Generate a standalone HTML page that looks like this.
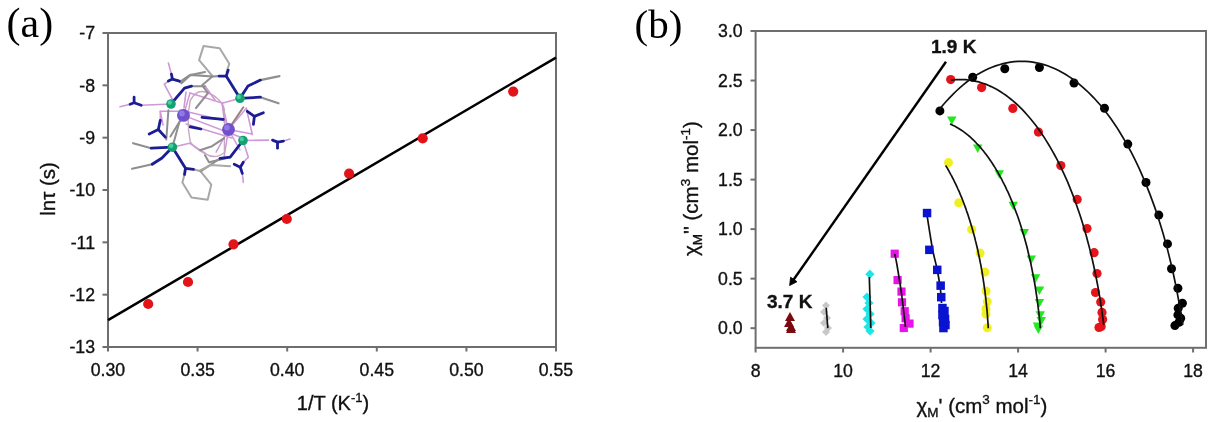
<!DOCTYPE html>
<html><head><meta charset="utf-8"><style>
html,body{margin:0;padding:0;background:#fff;width:1217px;height:422px;overflow:hidden}
svg{display:block;filter:blur(0.4px)}
</style></head><body>
<svg width="1217" height="422" viewBox="0 0 1217 422">
<rect width="1217" height="422" fill="#fff"/>
<text x="6.5" y="37.3" font-family="Liberation Serif, serif" font-size="42" fill="#000">(a)</text>
<rect x="108" y="33" width="448" height="314" fill="none" stroke="#6e6e6e" stroke-width="2"/>
<line x1="102.5" y1="33.00" x2="108" y2="33.00" stroke="#6e6e6e" stroke-width="2"/>
<text x="95" y="39.3" text-anchor="end" font-family="Liberation Sans, sans-serif" stroke="#111" stroke-width="0.35" font-size="17.7" fill="#111">-7</text>
<line x1="102.5" y1="85.33" x2="108" y2="85.33" stroke="#6e6e6e" stroke-width="2"/>
<text x="95" y="91.6" text-anchor="end" font-family="Liberation Sans, sans-serif" stroke="#111" stroke-width="0.35" font-size="17.7" fill="#111">-8</text>
<line x1="102.5" y1="137.67" x2="108" y2="137.67" stroke="#6e6e6e" stroke-width="2"/>
<text x="95" y="144.0" text-anchor="end" font-family="Liberation Sans, sans-serif" stroke="#111" stroke-width="0.35" font-size="17.7" fill="#111">-9</text>
<line x1="102.5" y1="190.00" x2="108" y2="190.00" stroke="#6e6e6e" stroke-width="2"/>
<text x="95" y="196.3" text-anchor="end" font-family="Liberation Sans, sans-serif" stroke="#111" stroke-width="0.35" font-size="17.7" fill="#111">-10</text>
<line x1="102.5" y1="242.33" x2="108" y2="242.33" stroke="#6e6e6e" stroke-width="2"/>
<text x="95" y="248.6" text-anchor="end" font-family="Liberation Sans, sans-serif" stroke="#111" stroke-width="0.35" font-size="17.7" fill="#111">-11</text>
<line x1="102.5" y1="294.67" x2="108" y2="294.67" stroke="#6e6e6e" stroke-width="2"/>
<text x="95" y="301.0" text-anchor="end" font-family="Liberation Sans, sans-serif" stroke="#111" stroke-width="0.35" font-size="17.7" fill="#111">-12</text>
<line x1="102.5" y1="347.00" x2="108" y2="347.00" stroke="#6e6e6e" stroke-width="2"/>
<text x="95" y="353.3" text-anchor="end" font-family="Liberation Sans, sans-serif" stroke="#111" stroke-width="0.35" font-size="17.7" fill="#111">-13</text>
<line x1="108.00" y1="347" x2="108.00" y2="351.5" stroke="#6e6e6e" stroke-width="2"/>
<text x="108.0" y="376" text-anchor="middle" font-family="Liberation Sans, sans-serif" stroke="#111" stroke-width="0.35" font-size="17.7" fill="#111">0.30</text>
<line x1="197.60" y1="347" x2="197.60" y2="351.5" stroke="#6e6e6e" stroke-width="2"/>
<text x="197.6" y="376" text-anchor="middle" font-family="Liberation Sans, sans-serif" stroke="#111" stroke-width="0.35" font-size="17.7" fill="#111">0.35</text>
<line x1="287.20" y1="347" x2="287.20" y2="351.5" stroke="#6e6e6e" stroke-width="2"/>
<text x="287.2" y="376" text-anchor="middle" font-family="Liberation Sans, sans-serif" stroke="#111" stroke-width="0.35" font-size="17.7" fill="#111">0.40</text>
<line x1="376.80" y1="347" x2="376.80" y2="351.5" stroke="#6e6e6e" stroke-width="2"/>
<text x="376.8" y="376" text-anchor="middle" font-family="Liberation Sans, sans-serif" stroke="#111" stroke-width="0.35" font-size="17.7" fill="#111">0.45</text>
<line x1="466.40" y1="347" x2="466.40" y2="351.5" stroke="#6e6e6e" stroke-width="2"/>
<text x="466.4" y="376" text-anchor="middle" font-family="Liberation Sans, sans-serif" stroke="#111" stroke-width="0.35" font-size="17.7" fill="#111">0.50</text>
<line x1="556.00" y1="347" x2="556.00" y2="351.5" stroke="#6e6e6e" stroke-width="2"/>
<text x="556.0" y="376" text-anchor="middle" font-family="Liberation Sans, sans-serif" stroke="#111" stroke-width="0.35" font-size="17.7" fill="#111">0.55</text>
<text x="296.8" y="410.3" font-family="Liberation Sans, sans-serif" stroke="#111" stroke-width="0.35" font-size="20" fill="#111">1/T (K<tspan font-size="13" dy="-8.5">-1</tspan><tspan dy="8.5">)</tspan></text>
<text transform="translate(55,189) rotate(-90)" text-anchor="middle" font-family="Liberation Sans, sans-serif" stroke="#111" stroke-width="0.35" font-size="20.5" fill="#111">ln&#964; (s)</text>
<line x1="108" y1="320.2" x2="556" y2="57.6" stroke="#000" stroke-width="2.5"/>
<circle cx="148.2" cy="304.0" r="5.1" fill="#e2141a"/>
<circle cx="188.0" cy="282.0" r="5.1" fill="#e2141a"/>
<circle cx="233.5" cy="244.3" r="5.1" fill="#e2141a"/>
<circle cx="286.8" cy="219.0" r="5.1" fill="#e2141a"/>
<circle cx="349.1" cy="173.6" r="5.1" fill="#e2141a"/>
<circle cx="422.7" cy="138.3" r="5.1" fill="#e2141a"/>
<circle cx="513.2" cy="91.6" r="5.1" fill="#e2141a"/>
<text x="634.5" y="38" font-family="Liberation Serif, serif" font-size="41" fill="#000">(b)</text>
<rect x="755.6" y="31.0" width="450.4" height="316.8" fill="none" stroke="#6e6e6e" stroke-width="2"/>
<line x1="750.5" y1="328.18" x2="755.6" y2="328.18" stroke="#6e6e6e" stroke-width="2"/>
<text x="742.7" y="334.4" text-anchor="end" font-family="Liberation Sans, sans-serif" stroke="#111" stroke-width="0.35" font-size="17.7" fill="#111">0.0</text>
<line x1="750.5" y1="278.65" x2="755.6" y2="278.65" stroke="#6e6e6e" stroke-width="2"/>
<text x="742.7" y="284.8" text-anchor="end" font-family="Liberation Sans, sans-serif" stroke="#111" stroke-width="0.35" font-size="17.7" fill="#111">0.5</text>
<line x1="750.5" y1="229.12" x2="755.6" y2="229.12" stroke="#6e6e6e" stroke-width="2"/>
<text x="742.7" y="235.3" text-anchor="end" font-family="Liberation Sans, sans-serif" stroke="#111" stroke-width="0.35" font-size="17.7" fill="#111">1.0</text>
<line x1="750.5" y1="179.59" x2="755.6" y2="179.59" stroke="#6e6e6e" stroke-width="2"/>
<text x="742.7" y="185.8" text-anchor="end" font-family="Liberation Sans, sans-serif" stroke="#111" stroke-width="0.35" font-size="17.7" fill="#111">1.5</text>
<line x1="750.5" y1="130.06" x2="755.6" y2="130.06" stroke="#6e6e6e" stroke-width="2"/>
<text x="742.7" y="136.3" text-anchor="end" font-family="Liberation Sans, sans-serif" stroke="#111" stroke-width="0.35" font-size="17.7" fill="#111">2.0</text>
<line x1="750.5" y1="80.53" x2="755.6" y2="80.53" stroke="#6e6e6e" stroke-width="2"/>
<text x="742.7" y="86.7" text-anchor="end" font-family="Liberation Sans, sans-serif" stroke="#111" stroke-width="0.35" font-size="17.7" fill="#111">2.5</text>
<line x1="750.5" y1="31.00" x2="755.6" y2="31.00" stroke="#6e6e6e" stroke-width="2"/>
<text x="742.7" y="37.2" text-anchor="end" font-family="Liberation Sans, sans-serif" stroke="#111" stroke-width="0.35" font-size="17.7" fill="#111">3.0</text>
<line x1="755.60" y1="347.8" x2="755.60" y2="352.5" stroke="#6e6e6e" stroke-width="2"/>
<text x="755.6" y="377" text-anchor="middle" font-family="Liberation Sans, sans-serif" stroke="#111" stroke-width="0.35" font-size="17.7" fill="#111">8</text>
<line x1="843.10" y1="347.8" x2="843.10" y2="352.5" stroke="#6e6e6e" stroke-width="2"/>
<text x="843.1" y="377" text-anchor="middle" font-family="Liberation Sans, sans-serif" stroke="#111" stroke-width="0.35" font-size="17.7" fill="#111">10</text>
<line x1="930.60" y1="347.8" x2="930.60" y2="352.5" stroke="#6e6e6e" stroke-width="2"/>
<text x="930.6" y="377" text-anchor="middle" font-family="Liberation Sans, sans-serif" stroke="#111" stroke-width="0.35" font-size="17.7" fill="#111">12</text>
<line x1="1018.10" y1="347.8" x2="1018.10" y2="352.5" stroke="#6e6e6e" stroke-width="2"/>
<text x="1018.1" y="377" text-anchor="middle" font-family="Liberation Sans, sans-serif" stroke="#111" stroke-width="0.35" font-size="17.7" fill="#111">14</text>
<line x1="1105.60" y1="347.8" x2="1105.60" y2="352.5" stroke="#6e6e6e" stroke-width="2"/>
<text x="1105.6" y="377" text-anchor="middle" font-family="Liberation Sans, sans-serif" stroke="#111" stroke-width="0.35" font-size="17.7" fill="#111">16</text>
<line x1="1193.10" y1="347.8" x2="1193.10" y2="352.5" stroke="#6e6e6e" stroke-width="2"/>
<text x="1193.1" y="377" text-anchor="middle" font-family="Liberation Sans, sans-serif" stroke="#111" stroke-width="0.35" font-size="17.7" fill="#111">18</text>
<text x="916.5" y="412.5" font-family="Liberation Sans, sans-serif" stroke="#111" stroke-width="0.35" font-size="20.5" fill="#111">&#967;<tspan font-size="13.5" dy="4">M</tspan><tspan dy="-4">' (cm</tspan><tspan font-size="13.5" dy="-8.5">3</tspan><tspan dy="8.5"> mol</tspan><tspan font-size="13.5" dy="-8.5">-1</tspan><tspan dy="8.5">)</tspan></text>
<text transform="translate(698,188.6) rotate(-90)" text-anchor="middle" font-family="Liberation Sans, sans-serif" stroke="#111" stroke-width="0.35" font-size="20.5" fill="#111">&#967;<tspan font-size="13.5" dy="4">M</tspan><tspan dy="-4">'' (cm</tspan><tspan font-size="13.5" dy="-8.5">3</tspan><tspan dy="8.5"> mol</tspan><tspan font-size="13.5" dy="-8.5">-1</tspan><tspan dy="8.5">)</tspan></text>
<text x="931" y="52.7" font-family="Liberation Sans, sans-serif" stroke="#111" stroke-width="0.35" font-weight="bold" font-size="19" fill="#111">1.9 K</text>
<text x="767" y="307.5" font-family="Liberation Sans, sans-serif" stroke="#111" stroke-width="0.35" font-weight="bold" font-size="19" fill="#111">3.7 K</text>
<line x1="946" y1="61.8" x2="793" y2="280.5" stroke="#000" stroke-width="2.4"/>
<path d="M789.6,285.6 L790.6,277.2 L797.0,281.7 Z" fill="#000" stroke="#000" stroke-width="0.8" stroke-linejoin="miter"/>
<path d="M869.9,269.6 L874.5,274.2 L869.9,278.8 L865.3,274.2 Z" fill="#1ee6e6"/><path d="M867.0,292.4 L871.6,297.0 L867.0,301.6 L862.4,297.0 Z" fill="#1ee6e6"/><path d="M869.0,298.4 L873.6,303.0 L869.0,307.6 L864.4,303.0 Z" fill="#1ee6e6"/><path d="M867.0,304.4 L871.6,309.0 L867.0,313.6 L862.4,309.0 Z" fill="#1ee6e6"/><path d="M870.0,309.4 L874.6,314.0 L870.0,318.6 L865.4,314.0 Z" fill="#1ee6e6"/><path d="M867.0,314.4 L871.6,319.0 L867.0,323.6 L862.4,319.0 Z" fill="#1ee6e6"/><path d="M871.0,318.4 L875.6,323.0 L871.0,327.6 L866.4,323.0 Z" fill="#1ee6e6"/><path d="M868.0,322.4 L872.6,327.0 L868.0,331.6 L863.4,327.0 Z" fill="#1ee6e6"/><path d="M870.0,326.4 L874.6,331.0 L870.0,335.6 L865.4,331.0 Z" fill="#1ee6e6"/>
<path d="M869.3,277.0 C869.4,280.8 869.8,291.5 870.0,300.0 C870.2,308.5 870.7,323.3 870.8,328.0" fill="none" stroke="#111" stroke-width="1.7"/>
<path d="M826.0,301.5 L830.0,305.5 L826.0,309.5 L822.0,305.5 Z" fill="#c8c8c8"/><path d="M824.0,308.0 L828.0,312.0 L824.0,316.0 L820.0,312.0 Z" fill="#c8c8c8"/><path d="M827.0,314.0 L831.0,318.0 L827.0,322.0 L823.0,318.0 Z" fill="#c8c8c8"/><path d="M824.0,319.0 L828.0,323.0 L824.0,327.0 L820.0,323.0 Z" fill="#c8c8c8"/><path d="M828.0,324.0 L832.0,328.0 L828.0,332.0 L824.0,328.0 Z" fill="#c8c8c8"/><path d="M826.0,328.0 L830.0,332.0 L826.0,336.0 L822.0,332.0 Z" fill="#c8c8c8"/>
<path d="M826.2,307.8 C826.5,311.2 827.5,324.7 827.8,328.1" fill="none" stroke="#111" stroke-width="1.7"/>
<path d="M785.0,321.0 L795.0,321.0 L790.0,312.0 Z" fill="#7a0a10"/><path d="M784.0,327.0 L794.0,327.0 L789.0,318.0 Z" fill="#7a0a10"/><path d="M786.0,331.0 L796.0,331.0 L791.0,322.0 Z" fill="#7a0a10"/><path d="M786.0,333.0 L796.0,333.0 L791.0,324.0 Z" fill="#7a0a10"/>
<rect x="890.6" y="249.6" width="8.2" height="8.2" fill="#e614e6"/><rect x="893.5" y="276.0" width="8.2" height="8.2" fill="#e614e6"/><rect x="897.4" y="287.5" width="8.2" height="8.2" fill="#e614e6"/><rect x="897.9" y="298.2" width="8.2" height="8.2" fill="#e614e6"/><rect x="900.6" y="307.1" width="8.2" height="8.2" fill="#e614e6"/><rect x="901.5" y="314.2" width="8.2" height="8.2" fill="#e614e6"/><rect x="905.4" y="319.5" width="8.2" height="8.2" fill="#e614e6"/><rect x="899.7" y="323.9" width="8.2" height="8.2" fill="#e614e6"/>
<path d="M894.7,254.0 C895.1,255.8 896.0,259.0 897.0,265.0 C898.0,271.0 899.9,282.5 901.0,290.0 C902.1,297.5 902.8,303.8 903.5,310.0 C904.2,316.2 905.2,324.2 905.5,327.0" fill="none" stroke="#111" stroke-width="1.7"/>
<path d="M927.0,215.0 C927.9,220.7 930.8,239.8 932.5,249.0 C934.2,258.2 936.0,263.2 937.3,270.0 C938.6,276.8 939.8,284.5 940.5,290.0 C941.2,295.5 941.3,300.8 941.5,303.0" fill="none" stroke="#111" stroke-width="1.7"/>
<rect x="922.8" y="208.8" width="8.5" height="8.5" fill="#0a14d0"/><rect x="925.1" y="245.6" width="8.5" height="8.5" fill="#0a14d0"/><rect x="933.0" y="265.6" width="8.5" height="8.5" fill="#0a14d0"/><rect x="936.4" y="281.4" width="8.5" height="8.5" fill="#0a14d0"/><rect x="937.0" y="292.9" width="8.5" height="8.5" fill="#0a14d0"/><rect x="938.2" y="303.8" width="8.5" height="8.5" fill="#0a14d0"/><rect x="940.2" y="306.8" width="8.5" height="8.5" fill="#0a14d0"/><rect x="938.2" y="310.8" width="8.5" height="8.5" fill="#0a14d0"/><rect x="940.8" y="314.8" width="8.5" height="8.5" fill="#0a14d0"/><rect x="938.8" y="317.8" width="8.5" height="8.5" fill="#0a14d0"/><rect x="941.2" y="320.8" width="8.5" height="8.5" fill="#0a14d0"/><rect x="939.2" y="323.8" width="8.5" height="8.5" fill="#0a14d0"/>
<circle cx="948.5" cy="162.6" r="4.5" fill="#f0f020"/><circle cx="958.8" cy="202.7" r="4.5" fill="#f0f020"/><circle cx="971.6" cy="229.4" r="4.5" fill="#f0f020"/><circle cx="980.1" cy="253.0" r="4.5" fill="#f0f020"/><circle cx="984.9" cy="272.0" r="4.5" fill="#f0f020"/><circle cx="986.1" cy="291.0" r="4.5" fill="#f0f020"/><circle cx="987.3" cy="301.6" r="4.5" fill="#f0f020"/><circle cx="986.0" cy="308.7" r="4.5" fill="#f0f020"/><circle cx="986.0" cy="314.0" r="4.5" fill="#f0f020"/><circle cx="987.3" cy="327.7" r="4.5" fill="#f0f020"/>
<polyline points="945.6,165.5 946.5,166.9 947.4,168.3 948.2,169.8 949.1,171.3 949.9,172.8 950.7,174.3 951.6,175.9 952.4,177.5 953.2,179.0 954.0,180.7 954.8,182.3 955.6,183.9 956.4,185.6 957.2,187.3 957.9,189.0 958.7,190.7 959.5,192.4 960.2,194.2 960.9,195.9 961.7,197.7 962.4,199.5 963.1,201.3 963.8,203.2 964.5,205.0 965.2,206.9 965.9,208.8 966.5,210.7 967.2,212.6 967.9,214.5 968.5,216.5 969.1,218.4 969.8,220.4 970.4,222.4 971.0,224.4 971.6,226.4 972.2,228.5 972.8,230.5 973.3,232.6 973.9,234.6 974.5,236.7 975.0,238.8 975.5,240.9 976.1,243.1 976.6,245.2 977.1,247.3 977.6,249.5 978.1,251.7 978.5,253.9 979.0,256.1 979.5,258.3 979.9,260.5 980.3,262.7 980.8,264.9 981.2,267.2 981.6,269.4 982.0,271.7 982.4,274.0 982.7,276.3 983.1,278.5 983.4,280.8 983.8,283.1 984.1,285.5 984.4,287.8 984.8,290.1 985.1,292.4 985.3,294.8 985.6,297.1 985.9,299.5 986.1,301.9 986.4,304.2 986.6,306.6 986.9,309.0 987.1,311.4 987.3,313.8 987.5,316.1 987.6,318.5 987.8,321.0 988.0,323.4 988.1,325.8 988.3,328.2" fill="none" stroke="#111" stroke-width="1.7"/>
<path d="M947.0,116.5 L956.5,116.5 L951.8,125.0 Z" fill="#22e822"/><path d="M973.0,144.5 L982.5,144.5 L977.7,153.1 Z" fill="#22e822"/><path d="M994.5,170.2 L1004.0,170.2 L999.3,178.8 Z" fill="#22e822"/><path d="M1008.5,201.7 L1018.0,201.7 L1013.3,210.2 Z" fill="#22e822"/><path d="M1019.5,228.9 L1029.0,228.9 L1024.3,237.4 Z" fill="#22e822"/><path d="M1026.5,255.4 L1036.0,255.4 L1031.3,263.9 Z" fill="#22e822"/><path d="M1030.8,274.2 L1040.3,274.2 L1035.6,282.8 Z" fill="#22e822"/><path d="M1034.7,286.5 L1044.2,286.5 L1039.4,295.1 Z" fill="#22e822"/><path d="M1034.7,298.9 L1044.2,298.9 L1039.4,307.4 Z" fill="#22e822"/><path d="M1035.5,311.2 L1045.0,311.2 L1040.3,319.8 Z" fill="#22e822"/><path d="M1036.5,316.9 L1046.0,316.9 L1041.3,325.4 Z" fill="#22e822"/><path d="M1032.8,322.6 L1042.2,322.6 L1037.5,331.1 Z" fill="#22e822"/><path d="M1033.7,325.4 L1043.2,325.4 L1038.4,333.9 Z" fill="#22e822"/>
<polyline points="950.0,123.9 951.7,124.7 953.3,125.5 955.0,126.3 956.6,127.2 958.3,128.2 959.9,129.2 961.5,130.3 963.2,131.4 964.8,132.6 966.4,133.9 968.0,135.2 969.6,136.5 971.1,137.9 972.7,139.4 974.3,140.9 975.8,142.5 977.3,144.1 978.9,145.7 980.4,147.4 981.9,149.2 983.4,151.0 984.9,152.9 986.3,154.8 987.8,156.8 989.2,158.8 990.7,160.9 992.1,163.0 993.5,165.2 994.9,167.4 996.2,169.6 997.6,171.9 998.9,174.3 1000.2,176.7 1001.6,179.1 1002.8,181.6 1004.1,184.1 1005.4,186.7 1006.6,189.3 1007.9,191.9 1009.1,194.6 1010.2,197.3 1011.4,200.1 1012.6,202.9 1013.7,205.8 1014.8,208.7 1015.9,211.6 1017.0,214.5 1018.1,217.5 1019.1,220.6 1020.1,223.6 1021.1,226.7 1022.1,229.9 1023.0,233.0 1024.0,236.2 1024.9,239.5 1025.8,242.7 1026.7,246.0 1027.5,249.3 1028.3,252.7 1029.1,256.1 1029.9,259.5 1030.7,262.9 1031.4,266.4 1032.1,269.8 1032.8,273.3 1033.5,276.9 1034.1,280.4 1034.8,284.0 1035.4,287.6 1035.9,291.2 1036.5,294.8 1037.0,298.5 1037.5,302.1 1038.0,305.8 1038.4,309.5 1038.9,313.2 1039.3,316.9 1039.7,320.7 1040.0,324.4 1040.3,328.2" fill="none" stroke="#111" stroke-width="1.7"/>
<circle cx="950.7" cy="79.6" r="4.6" fill="#e4141a"/><circle cx="981.6" cy="87.6" r="4.6" fill="#e4141a"/><circle cx="1012.8" cy="108.4" r="4.6" fill="#e4141a"/><circle cx="1038.4" cy="132.1" r="4.6" fill="#e4141a"/><circle cx="1060.8" cy="165.6" r="4.6" fill="#e4141a"/><circle cx="1077.2" cy="199.4" r="4.6" fill="#e4141a"/><circle cx="1087.0" cy="228.5" r="4.6" fill="#e4141a"/><circle cx="1094.1" cy="252.7" r="4.6" fill="#e4141a"/><circle cx="1097.0" cy="273.5" r="4.6" fill="#e4141a"/><circle cx="1095.5" cy="292.5" r="4.6" fill="#e4141a"/><circle cx="1100.7" cy="301.9" r="4.6" fill="#e4141a"/><circle cx="1102.0" cy="312.4" r="4.6" fill="#e4141a"/><circle cx="1102.6" cy="319.5" r="4.6" fill="#e4141a"/><circle cx="1101.2" cy="326.6" r="4.6" fill="#e4141a"/><circle cx="1099.0" cy="327.5" r="4.6" fill="#e4141a"/>
<polyline points="950.8,80.3 953.4,80.0 955.9,79.7 958.4,79.6 961.0,79.5 963.5,79.6 966.0,79.7 968.6,80.0 971.1,80.3 973.6,80.8 976.1,81.3 978.7,81.9 981.2,82.7 983.7,83.5 986.2,84.4 988.7,85.5 991.2,86.6 993.6,87.8 996.1,89.1 998.6,90.5 1001.0,92.0 1003.4,93.6 1005.9,95.3 1008.3,97.1 1010.7,99.0 1013.0,100.9 1015.4,103.0 1017.8,105.2 1020.1,107.4 1022.4,109.7 1024.7,112.2 1027.0,114.7 1029.2,117.3 1031.5,120.0 1033.7,122.7 1035.9,125.6 1038.1,128.5 1040.2,131.6 1042.4,134.7 1044.5,137.9 1046.5,141.1 1048.6,144.5 1050.6,147.9 1052.6,151.4 1054.6,155.0 1056.6,158.7 1058.5,162.4 1060.4,166.2 1062.2,170.1 1064.1,174.1 1065.9,178.1 1067.7,182.2 1069.4,186.4 1071.1,190.6 1072.8,194.9 1074.4,199.3 1076.1,203.7 1077.6,208.2 1079.2,212.7 1080.7,217.3 1082.2,222.0 1083.6,226.7 1085.0,231.5 1086.4,236.3 1087.7,241.2 1089.0,246.1 1090.3,251.1 1091.5,256.1 1092.7,261.2 1093.8,266.3 1094.9,271.5 1096.0,276.7 1097.0,282.0 1098.0,287.2 1098.9,292.6 1099.9,297.9 1100.7,303.3 1101.5,308.7 1102.3,314.2 1103.1,319.7 1103.8,325.2" fill="none" stroke="#111" stroke-width="1.7"/>
<circle cx="939.9" cy="110.9" r="4.5" fill="#000000"/><circle cx="972.7" cy="77.3" r="4.5" fill="#000000"/><circle cx="1004.8" cy="68.8" r="4.5" fill="#000000"/><circle cx="1039.4" cy="67.5" r="4.5" fill="#000000"/><circle cx="1074.0" cy="83.0" r="4.5" fill="#000000"/><circle cx="1104.5" cy="108.3" r="4.5" fill="#000000"/><circle cx="1127.8" cy="144.1" r="4.5" fill="#000000"/><circle cx="1146.0" cy="182.5" r="4.5" fill="#000000"/><circle cx="1158.8" cy="215.1" r="4.5" fill="#000000"/><circle cx="1167.5" cy="243.9" r="4.5" fill="#000000"/><circle cx="1171.5" cy="268.8" r="4.5" fill="#000000"/><circle cx="1177.9" cy="288.3" r="4.5" fill="#000000"/><circle cx="1182.4" cy="303.2" r="4.5" fill="#000000"/><circle cx="1178.2" cy="308.2" r="4.5" fill="#000000"/><circle cx="1177.9" cy="314.9" r="4.5" fill="#000000"/><circle cx="1180.7" cy="318.2" r="4.5" fill="#000000"/><circle cx="1179.0" cy="322.3" r="4.5" fill="#000000"/><circle cx="1174.9" cy="325.6" r="4.5" fill="#000000"/>
<polyline points="939.5,109.4 942.8,105.3 946.1,101.5 949.5,97.8 952.9,94.3 956.3,91.0 959.7,87.8 963.2,84.8 966.7,82.0 970.3,79.4 973.8,76.9 977.4,74.6 981.0,72.5 984.7,70.6 988.3,68.8 992.0,67.2 995.6,65.9 999.3,64.7 1003.0,63.6 1006.7,62.8 1010.5,62.1 1014.2,61.7 1017.9,61.4 1021.6,61.3 1025.4,61.4 1029.1,61.7 1032.8,62.1 1036.5,62.8 1040.2,63.6 1043.9,64.6 1047.6,65.8 1051.3,67.2 1055.0,68.8 1058.6,70.5 1062.2,72.5 1065.8,74.6 1069.4,76.9 1073.0,79.3 1076.5,82.0 1080.0,84.8 1083.5,87.8 1087.0,91.0 1090.4,94.3 1093.8,97.8 1097.1,101.5 1100.5,105.3 1103.7,109.3 1107.0,113.5 1110.2,117.8 1113.3,122.3 1116.5,126.9 1119.5,131.7 1122.5,136.7 1125.5,141.8 1128.4,147.0 1131.3,152.4 1134.1,157.9 1136.9,163.6 1139.6,169.4 1142.2,175.4 1144.8,181.4 1147.3,187.6 1149.8,193.9 1152.2,200.4 1154.6,206.9 1156.9,213.6 1159.1,220.4 1161.2,227.3 1163.3,234.3 1165.3,241.4 1167.3,248.6 1169.1,255.9 1170.9,263.3 1172.7,270.7 1174.3,278.3 1175.9,285.9 1177.4,293.7 1178.8,301.4 1180.2,309.3 1181.5,317.2 1182.7,325.2" fill="none" stroke="#111" stroke-width="1.7"/>
<g><polyline points="183.5,115.4 190.0,93.0" fill="none" stroke="#cf98d8" stroke-width="1.5" stroke-linejoin="round" stroke-linecap="round"/><polyline points="160.3,120.4 160.3,111.3 181.4,111.3" fill="none" stroke="#cf98d8" stroke-width="1.5" stroke-linejoin="round" stroke-linecap="round"/><polyline points="228.5,129.5 222.1,103.3" fill="none" stroke="#cf98d8" stroke-width="1.5" stroke-linejoin="round" stroke-linecap="round"/><polyline points="228.5,129.5 216.1,152.2" fill="none" stroke="#cf98d8" stroke-width="1.5" stroke-linejoin="round" stroke-linecap="round"/><polyline points="228.5,129.5 224.2,156.2" fill="none" stroke="#cf98d8" stroke-width="1.5" stroke-linejoin="round" stroke-linecap="round"/><polyline points="228.5,129.5 246.3,108.3" fill="none" stroke="#cf98d8" stroke-width="1.5" stroke-linejoin="round" stroke-linecap="round"/><polyline points="228.5,129.5 252.0,134.0" fill="none" stroke="#cf98d8" stroke-width="1.5" stroke-linejoin="round" stroke-linecap="round"/><polyline points="228.5,129.5 240.0,150.0" fill="none" stroke="#cf98d8" stroke-width="1.5" stroke-linejoin="round" stroke-linecap="round"/><polyline points="183.5,115.4 240.0,137.0" fill="none" stroke="#cf98d8" stroke-width="1.5" stroke-linejoin="round" stroke-linecap="round"/><polyline points="186.0,124.0 232.0,138.0" fill="none" stroke="#cf98d8" stroke-width="1.5" stroke-linejoin="round" stroke-linecap="round"/><polyline points="180.0,110.0 226.0,121.0" fill="none" stroke="#cf98d8" stroke-width="1.5" stroke-linejoin="round" stroke-linecap="round"/><path d="M190.3,100.3 Q196,90 204.1,91.7 Q214,94 220.1,101.3 Q225,106 224.4,114.1 L224.4,152.5 Q215,160 205.2,153.6 Q194,148 190.3,141.8 Q186,120 190.3,100.3" fill="none" stroke="#c8a8c0" stroke-width="1.4"/><polyline points="120.0,106.7 130.1,104.3" fill="none" stroke="#cf98d8" stroke-width="1.6" stroke-linejoin="round" stroke-linecap="round"/><polyline points="141.2,105.3 171.0,104.0" fill="none" stroke="#cf98d8" stroke-width="1.6" stroke-linejoin="round" stroke-linecap="round"/><polyline points="168.4,63.0 171.4,74.1" fill="none" stroke="#cf98d8" stroke-width="1.6" stroke-linejoin="round" stroke-linecap="round"/><polyline points="168.4,81.1 164.3,84.2 172.4,99.3" fill="none" stroke="#cf98d8" stroke-width="1.6" stroke-linejoin="round" stroke-linecap="round"/><polyline points="240.0,98.3 222.1,103.3 225.2,126.4" fill="none" stroke="#cf98d8" stroke-width="1.6" stroke-linejoin="round" stroke-linecap="round"/><polyline points="246.3,108.3 252.3,134.5" fill="none" stroke="#cf98d8" stroke-width="1.6" stroke-linejoin="round" stroke-linecap="round"/><polyline points="243.0,140.5 268.5,140.1" fill="none" stroke="#cf98d8" stroke-width="1.6" stroke-linejoin="round" stroke-linecap="round"/><polyline points="283.5,141.1 290.0,139.1" fill="none" stroke="#cf98d8" stroke-width="1.6" stroke-linejoin="round" stroke-linecap="round"/><polyline points="243.0,140.5 248.3,157.2 243.3,162.3" fill="none" stroke="#cf98d8" stroke-width="1.6" stroke-linejoin="round" stroke-linecap="round"/><polyline points="242.3,173.4 243.3,182.4" fill="none" stroke="#cf98d8" stroke-width="1.6" stroke-linejoin="round" stroke-linecap="round"/><polyline points="172.4,147.2 189.5,143.2 205.0,153.2" fill="none" stroke="#cf98d8" stroke-width="1.6" stroke-linejoin="round" stroke-linecap="round"/><polyline points="190.0,93.0 222.0,103.0" fill="none" stroke="#cf98d8" stroke-width="1.6" stroke-linejoin="round" stroke-linecap="round"/><polyline points="186.0,92.0 184.0,108.0" fill="none" stroke="#cf98d8" stroke-width="1.6" stroke-linejoin="round" stroke-linecap="round"/><polyline points="205.0,86.0 215.0,100.0" fill="none" stroke="#cf98d8" stroke-width="1.6" stroke-linejoin="round" stroke-linecap="round"/><polyline points="160.3,111.3 163.0,125.0" fill="none" stroke="#cf98d8" stroke-width="1.6" stroke-linejoin="round" stroke-linecap="round"/><polyline points="212.4,76.0 199.1,60.1 203.5,46.1 219.7,48.3 229.3,63.7 226.5,72.0" fill="none" stroke="#a8a8a8" stroke-width="2" stroke-linejoin="round" stroke-linecap="round"/><polyline points="219.1,76.1 212.4,76.5 190.3,74.8 180.0,82.0" fill="none" stroke="#8f8f8f" stroke-width="2.2" stroke-linejoin="round" stroke-linecap="round"/><polyline points="205.0,72.0 190.5,75.0 181.4,83.2" fill="none" stroke="#8f8f8f" stroke-width="2.2" stroke-linejoin="round" stroke-linecap="round"/><polyline points="212.4,76.5 202.0,85.2 208.0,93.2 196.0,108.0" fill="none" stroke="#8f8f8f" stroke-width="2" stroke-linejoin="round" stroke-linecap="round"/><polyline points="205.0,86.2 191.5,86.2" fill="none" stroke="#8f8f8f" stroke-width="2" stroke-linejoin="round" stroke-linecap="round"/><polyline points="260.4,80.1 279.5,76.1" fill="none" stroke="#8f8f8f" stroke-width="2.2" stroke-linejoin="round" stroke-linecap="round"/><polyline points="260.4,97.2 278.5,103.3" fill="none" stroke="#8f8f8f" stroke-width="2.2" stroke-linejoin="round" stroke-linecap="round"/><polyline points="151.2,148.2 133.1,143.2" fill="none" stroke="#8f8f8f" stroke-width="2.2" stroke-linejoin="round" stroke-linecap="round"/><polyline points="152.2,164.3 132.1,168.7" fill="none" stroke="#8f8f8f" stroke-width="2.2" stroke-linejoin="round" stroke-linecap="round"/><polyline points="184.5,174.4 182.4,182.4 191.5,197.5 207.7,199.7 211.3,184.6 200.6,171.3 193.5,169.3" fill="none" stroke="#a8a8a8" stroke-width="2" stroke-linejoin="round" stroke-linecap="round"/><polyline points="200.6,171.3 220.1,158.3" fill="none" stroke="#8f8f8f" stroke-width="2" stroke-linejoin="round" stroke-linecap="round"/><polyline points="200.0,150.2 212.1,146.2 224.2,138.1" fill="none" stroke="#8f8f8f" stroke-width="2" stroke-linejoin="round" stroke-linecap="round"/><polyline points="205.0,155.2 209.0,162.3 230.2,157.2" fill="none" stroke="#8f8f8f" stroke-width="2" stroke-linejoin="round" stroke-linecap="round"/><polyline points="200.0,170.3 211.0,165.0 230.2,166.3" fill="none" stroke="#a8a8a8" stroke-width="2" stroke-linejoin="round" stroke-linecap="round"/><polyline points="168.4,110.3 166.3,139.5" fill="none" stroke="#8f8f8f" stroke-width="2" stroke-linejoin="round" stroke-linecap="round"/><polyline points="183.5,115.4 170.4,136.5" fill="none" stroke="#8f8f8f" stroke-width="2" stroke-linejoin="round" stroke-linecap="round"/><polyline points="172.4,147.2 179.4,122.0" fill="none" stroke="#8f8f8f" stroke-width="2" stroke-linejoin="round" stroke-linecap="round"/><polyline points="243.3,107.3 230.0,127.0" fill="none" stroke="#9a8080" stroke-width="2" stroke-linejoin="round" stroke-linecap="round"/><polyline points="130.1,104.3 134.1,102.7 134.1,97.2" fill="none" stroke="#1c1c94" stroke-width="2.8" stroke-linejoin="round" stroke-linecap="round"/><polyline points="134.1,102.7 141.2,105.3" fill="none" stroke="#1c1c94" stroke-width="2.8" stroke-linejoin="round" stroke-linecap="round"/><polyline points="171.4,74.1 172.4,79.1 179.4,81.1" fill="none" stroke="#1c1c94" stroke-width="2.8" stroke-linejoin="round" stroke-linecap="round"/><polyline points="168.4,81.1 172.4,79.1" fill="none" stroke="#1c1c94" stroke-width="2.8" stroke-linejoin="round" stroke-linecap="round"/><polyline points="171.0,104.0 184.5,88.2 191.5,86.2" fill="none" stroke="#1c1c94" stroke-width="2.8" stroke-linejoin="round" stroke-linecap="round"/><polyline points="240.0,98.3 226.2,76.1 219.1,76.1" fill="none" stroke="#1c1c94" stroke-width="2.8" stroke-linejoin="round" stroke-linecap="round"/><polyline points="226.2,76.1 228.2,70.1" fill="none" stroke="#1c1c94" stroke-width="2.8" stroke-linejoin="round" stroke-linecap="round"/><polyline points="240.0,98.3 248.0,86.0 260.4,80.1" fill="none" stroke="#1c1c94" stroke-width="2.8" stroke-linejoin="round" stroke-linecap="round"/><polyline points="240.0,98.3 260.4,97.2" fill="none" stroke="#1c1c94" stroke-width="2.8" stroke-linejoin="round" stroke-linecap="round"/><polyline points="254.4,116.4 263.4,112.7" fill="none" stroke="#1c1c94" stroke-width="2.8" stroke-linejoin="round" stroke-linecap="round"/><polyline points="253.4,124.4 254.4,116.4 247.3,111.3" fill="none" stroke="#1c1c94" stroke-width="2.8" stroke-linejoin="round" stroke-linecap="round"/><polyline points="202.0,117.3 223.3,119.4" fill="none" stroke="#1c1c94" stroke-width="2.8" stroke-linejoin="round" stroke-linecap="round"/><polyline points="190.3,126.9 200.9,129.0" fill="none" stroke="#1c1c94" stroke-width="2.8" stroke-linejoin="round" stroke-linecap="round"/><polyline points="149.2,134.1 158.3,129.5 160.3,120.4" fill="none" stroke="#1c1c94" stroke-width="2.8" stroke-linejoin="round" stroke-linecap="round"/><polyline points="158.3,129.5 165.3,137.1" fill="none" stroke="#1c1c94" stroke-width="2.8" stroke-linejoin="round" stroke-linecap="round"/><polyline points="172.4,147.2 151.2,148.2" fill="none" stroke="#1c1c94" stroke-width="2.8" stroke-linejoin="round" stroke-linecap="round"/><polyline points="172.4,147.2 162.0,158.0 152.2,164.3" fill="none" stroke="#1c1c94" stroke-width="2.8" stroke-linejoin="round" stroke-linecap="round"/><polyline points="172.4,147.2 185.5,168.3 193.5,169.3" fill="none" stroke="#1c1c94" stroke-width="2.8" stroke-linejoin="round" stroke-linecap="round"/><polyline points="185.5,168.3 184.5,174.4" fill="none" stroke="#1c1c94" stroke-width="2.8" stroke-linejoin="round" stroke-linecap="round"/><polyline points="243.0,140.5 230.2,157.2 220.1,158.3" fill="none" stroke="#1c1c94" stroke-width="2.8" stroke-linejoin="round" stroke-linecap="round"/><polyline points="234.2,164.3 240.3,167.3 243.3,162.3" fill="none" stroke="#1c1c94" stroke-width="2.8" stroke-linejoin="round" stroke-linecap="round"/><polyline points="240.3,167.3 242.3,173.4" fill="none" stroke="#1c1c94" stroke-width="2.8" stroke-linejoin="round" stroke-linecap="round"/><polyline points="272.5,140.1 277.5,142.1 283.5,141.1" fill="none" stroke="#1c1c94" stroke-width="2.8" stroke-linejoin="round" stroke-linecap="round"/><polyline points="277.5,142.1 277.5,148.2" fill="none" stroke="#1c1c94" stroke-width="2.8" stroke-linejoin="round" stroke-linecap="round"/><circle cx="171.0" cy="104.0" r="4.8" fill="#14a272"/><circle cx="169.8" cy="102.6" r="2.2" fill="#5fe0b0" opacity="0.7"/><circle cx="240.0" cy="98.3" r="4.8" fill="#14a272"/><circle cx="238.8" cy="96.9" r="2.2" fill="#5fe0b0" opacity="0.7"/><circle cx="172.4" cy="147.2" r="4.8" fill="#14a272"/><circle cx="171.2" cy="145.8" r="2.2" fill="#5fe0b0" opacity="0.7"/><circle cx="243.0" cy="140.5" r="4.8" fill="#14a272"/><circle cx="241.8" cy="139.1" r="2.2" fill="#5fe0b0" opacity="0.7"/><circle cx="183.5" cy="115.4" r="6.4" fill="#7050cc"/><circle cx="181.9" cy="113.5" r="2.9" fill="#a08af0" opacity="0.7"/><circle cx="228.5" cy="129.5" r="6.4" fill="#7050cc"/><circle cx="226.9" cy="127.6" r="2.9" fill="#a08af0" opacity="0.7"/></g>
</svg></body></html>
